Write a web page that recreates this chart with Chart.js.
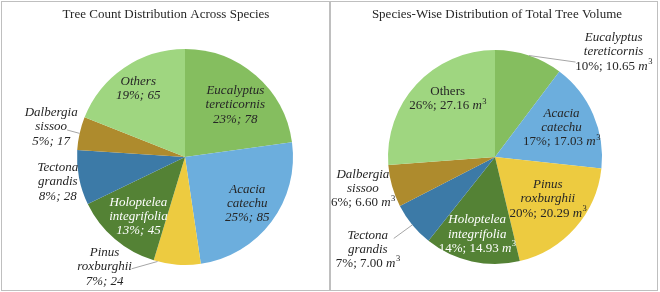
<!DOCTYPE html>
<html>
<head>
<meta charset="utf-8">
<script src="https://cdn.jsdelivr.net/npm/chart.js@4.4.0/dist/chart.umd.min.js"></script>
<style>
body { margin: 0; background: #fff; }
.panel { position: absolute; top: 1px; height: 290px; box-sizing: border-box; border: 1px solid #bfbfbf; }
#p1 { left: 1px; width: 329px; }
#p2 { left: 330px; width: 328px; }
canvas { position: absolute; top: 0; }
#countChart { left: 0; }
#volumeChart { left: 330px; }
</style>
</head>
<body>
<div class="panel" id="p1"></div>
<div class="panel" id="p2"></div>
<canvas id="countChart" width="330" height="292"></canvas>
<canvas id="volumeChart" width="330" height="292"></canvas>
<script>
var species = ['Eucalyptus tereticornis', 'Acacia catechu', 'Pinus roxburghii', 'Holoptelea integrifolia', 'Tectona grandis', 'Dalbergia sissoo', 'Others'];
var nameLines = [['Eucalyptus', 'tereticornis'], ['Acacia', 'catechu'], ['Pinus', 'roxburghii'], ['Holoptelea', 'integrifolia'], ['Tectona', 'grandis'], ['Dalbergia', 'sissoo'], ['Others']];
var treeCount = [78, 85, 24, 45, 28, 17, 65];
var countPct = [23, 25, 7, 13, 8, 5, 19];
var treeVolume = [10.65, 17.03, 20.29, 14.93, 7.00, 6.60, 27.16];
var volumePct = [10, 17, 20, 14, 7, 6, 26];

var colors = ['#85be5f', '#6caedd', '#edcb40', '#548235', '#3c7aa7', '#ae8b2d', '#9fd680'];
var textColors = ['#262626', '#262626', '#262626', '#fff', '#262626', '#262626', '#262626'];
var serif = '"Liberation Serif", "Times New Roman", serif';

// label spot: r = fraction of radius, da = angle shift (deg)
// leader: la = shift of start angle on the rim, ex/ey = end point relative to label centre
var countPlace = [
    {r: 0.67, da: 3}, {r: 0.72, da: 0}, {r: 1.26, da: 32, lead: {la: 10.5, ex: 27, ey: 2}}, {r: 0.7, da: -2.5},
    {r: 1.2, da: 0}, {r: 1.27, da: 0, lead: {la: 0, ex: 16, ey: 3}}, {r: 0.77, da: 0}
];
var volumePlace = [
    {r: 1.48, da: 30, lead: {la: 0, ex: -38, ey: 10}}, {r: 0.68, da: -0.5}, {r: 0.63, da: -3}, {r: 0.74, da: 0.5},
    {r: 1.47, da: 3.4, lead: {la: 0, ex: 26, ey: -11}}, {r: 1.27, da: 2.3}, {r: 0.7, da: 8}
];

var sliceLabels = {
    id: 'sliceLabels',
    afterDraw: function(chart, args, opts) {
        var ctx = chart.ctx;
        var arcs = chart.getDatasetMeta(0).data;
        var fs = 13;
        ctx.save();
        ctx.textBaseline = 'middle';
        ctx.textAlign = 'center';
        ctx.fillStyle = '#262626';
        ctx.font = '13px ' + serif;
        ctx.fillText(opts.title, opts.titleX, 15);

        arcs.forEach(function(arc, i) {
            var p = opts.place[i];
            var mid = (arc.startAngle + arc.endAngle) / 2;
            var ang = mid + p.da * Math.PI / 180;
            var x = arc.x + Math.cos(ang) * arc.outerRadius * p.r;
            var y = arc.y + Math.sin(ang) * arc.outerRadius * p.r;
            if (p.lead) {
                var la = mid + p.lead.la * Math.PI / 180;
                ctx.strokeStyle = '#a6a6a6';
                ctx.lineWidth = 1;
                ctx.beginPath();
                ctx.moveTo(arc.x + Math.cos(la) * arc.outerRadius, arc.y + Math.sin(la) * arc.outerRadius);
                ctx.lineTo(x + p.lead.ex, y + p.lead.ey);
                ctx.stroke();
            }
            var names = nameLines[i];
            var n = names.length + 1;
            var lh = 14.3;
            var y0 = y - (n - 1) * lh / 2;
            ctx.fillStyle = textColors[i];
            ctx.textAlign = 'center';
            var nameItalic = !(opts.volume && names[0] === 'Others');
            ctx.font = (nameItalic ? 'italic ' : '') + fs + 'px ' + serif;
            names.forEach(function(s, k) {
                ctx.fillText(s, x, y0 + k * lh);
            });
            var vy = y0 + names.length * lh;
            if (!opts.volume) {
                ctx.font = 'italic ' + fs + 'px ' + serif;
                ctx.fillText(countPct[i] + '%; ' + treeCount[i], x, vy);
            } else {
                var a = volumePct[i] + '%; ' + treeVolume[i].toFixed(2) + ' ';
                ctx.font = fs + 'px ' + serif;
                var wa = ctx.measureText(a).width;
                ctx.font = 'italic ' + fs + 'px ' + serif;
                var wm = ctx.measureText('m').width;
                ctx.font = '8.5px ' + serif;
                var ws = ctx.measureText('3').width;
                var sx = x - (wa + wm + ws) / 2;
                ctx.textAlign = 'left';
                ctx.font = fs + 'px ' + serif;
                ctx.fillText(a, sx, vy);
                ctx.font = 'italic ' + fs + 'px ' + serif;
                ctx.fillText('m', sx + wa, vy);
                ctx.font = '8.5px ' + serif;
                ctx.fillText('3', sx + wa + wm + 0.5, vy - 4.5);
            }
        });
        ctx.restore();
    }
};

function makePie(id, values, padding, labelOpts) {
    return new Chart(document.getElementById(id).getContext('2d'), {
        type: 'pie',
        data: {
            labels: species,
            datasets: [{
                data: values,
                backgroundColor: colors,
                borderWidth: 0,
                hoverOffset: 0
            }]
        },
        options: {
            responsive: false,
            animation: false,
            events: [],
            layout: { padding: padding },
            plugins: {
                legend: { display: false },
                tooltip: { enabled: false },
                sliceLabels: labelOpts
            }
        },
        plugins: [sliceLabels]
    });
}

var countChart = makePie('countChart', treeCount,
    {left: 77, right: 37, top: 49, bottom: 27},
    {title: 'Tree Count Distribution Across Species', titleX: 166, place: countPlace, volume: false});

var volumeChart = makePie('volumeChart', treeVolume,
    {left: 58, right: 58, top: 50, bottom: 28},
    {title: 'Species-Wise Distribution of Total Tree Volume', titleX: 167, place: volumePlace, volume: true});
</script>
</body>
</html>
